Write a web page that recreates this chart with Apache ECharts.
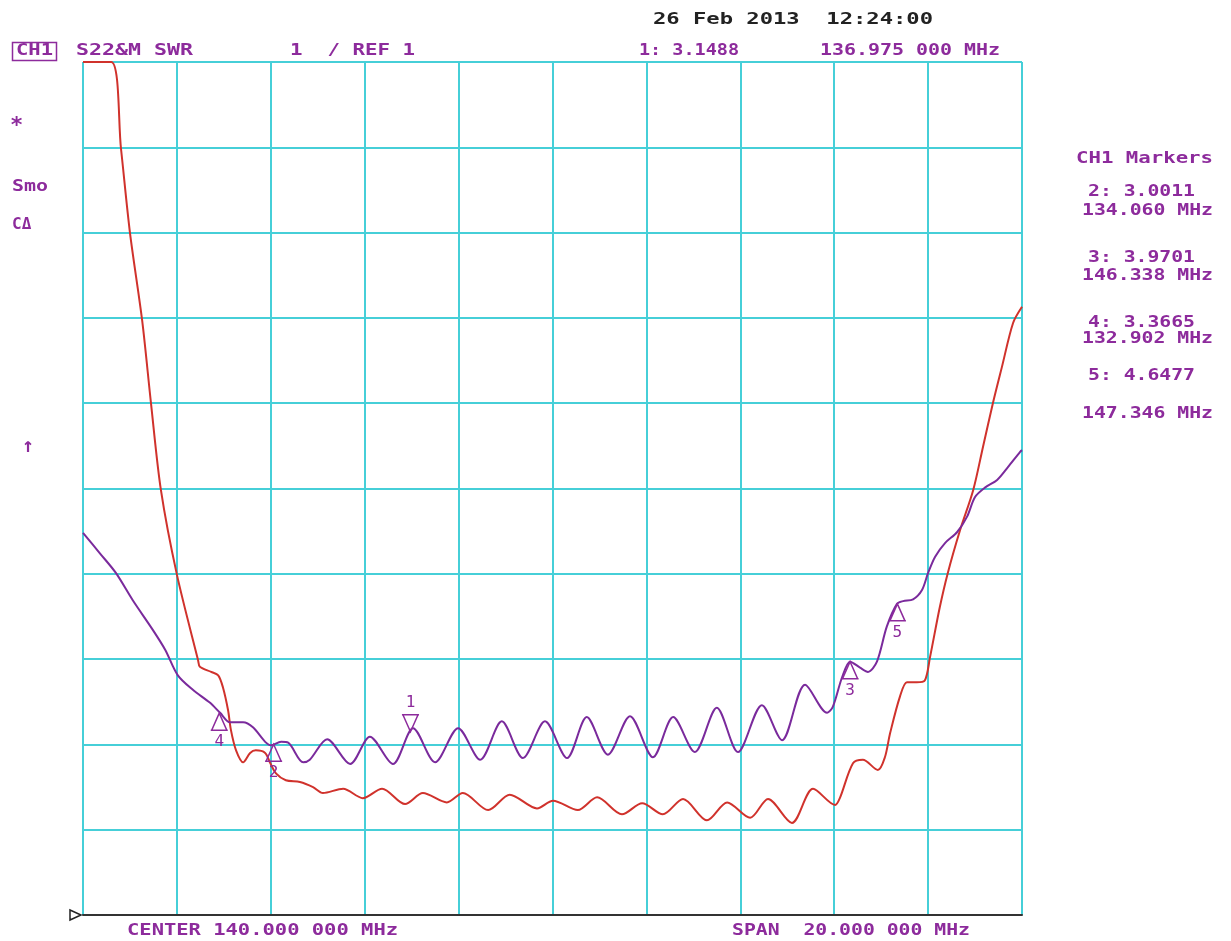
<!DOCTYPE html>
<html>
<head>
<meta charset="utf-8">
<script src="https://cdn.jsdelivr.net/npm/echarts@6/dist/echarts.min.js"></script>
<style>
html,body{margin:0;padding:0;background:#fff;}
#chart{width:1231px;height:941px;}
</style>
</head>
<body>
<div id="chart"></div>
<script>
// ---- Data (frequency in MHz, SWR) ----
var redFreq = [130.00,130.60,130.81,131.00,131.26,131.45,131.66,132.00,132.45,132.49,132.73,132.88,132.98,133.09,133.15,133.26,133.41,133.56,133.68,133.88,133.98,134.11,134.32,134.62,134.90,135.11,135.54,135.96,136.37,136.86,137.24,137.75,138.09,138.63,139.09,139.67,140.01,140.54,140.95,141.48,141.91,142.35,142.78,143.29,143.72,144.21,144.59,145.10,145.55,146.02,146.12,146.40,146.61,146.93,147.08,147.19,147.40,147.55,147.76,147.93,148.04,148.25,148.42,148.68,148.96,149.17,149.38,149.57,149.81,150.00];
var redSWR  = [11.0,11.0,9.98,9.0,7.97,6.99,5.98,4.99,3.99,3.91,3.85,3.81,3.67,3.40,3.17,2.93,2.79,2.90,2.93,2.90,2.79,2.66,2.58,2.56,2.50,2.43,2.48,2.37,2.48,2.30,2.43,2.32,2.43,2.23,2.41,2.25,2.34,2.23,2.38,2.18,2.31,2.18,2.36,2.11,2.32,2.14,2.36,2.08,2.48,2.29,2.37,2.78,2.82,2.70,2.85,3.13,3.56,3.73,3.73,3.75,4.02,4.61,5.01,5.51,5.98,6.49,7.00,7.42,7.94,8.13];

var purpleFreq = [130.00,130.36,130.70,131.06,131.49,131.75,132.02,132.34,132.70,132.92,133.13,133.41,133.62,133.88,134.00,134.22,134.37,134.69,134.83,135.20,135.69,136.11,136.60,137.03,137.50,137.99,138.46,138.92,139.37,139.84,140.31,140.73,141.18,141.65,142.14,142.57,143.03,143.50,143.95,144.46,144.89,145.38,145.85,145.97,146.17,146.34,146.55,146.72,146.91,147.12,147.34,147.47,147.68,147.87,148.00,148.15,148.36,148.62,148.83,149.00,149.21,149.47,149.70,149.96,150.00];
var purpleSWR  = [5.48,5.24,5.01,4.69,4.34,4.11,3.81,3.64,3.49,3.37,3.26,3.26,3.20,3.03,2.99,3.03,3.02,2.79,2.82,3.06,2.77,3.09,2.77,3.19,2.79,3.19,2.82,3.27,2.84,3.27,2.84,3.32,2.88,3.33,2.85,3.32,2.91,3.43,2.91,3.46,3.05,3.70,3.37,3.44,3.79,3.97,3.90,3.85,3.97,4.38,4.65,4.68,4.70,4.81,5.01,5.20,5.36,5.49,5.67,5.90,6.01,6.10,6.25,6.43,6.45];

var markerIds  = ['1','2','3','4','5'];
var markerFreq = [136.975,134.060,146.338,132.902,147.346];
var markerSWR  = [3.1488,3.0011,3.9701,3.3665,4.6477];

var xTicks = {min:130, max:150, step:2};
var yTicks = {min:1, max:11, step:1};

// ---- Styling ----
var RED = '#d0322c', PURPLE = '#7a2a9c', TEXT = '#8d2b9c', GRID = '#46cfd8';
var FONT = '"DejaVu Sans Mono", "Liberation Mono", monospace';

function pairs(xs, ys){ return xs.map(function(x,i){ return [x, ys[i]]; }); }

function txt(str, left, cy, width, color, size, weight){
  size = size || 16;
  weight = weight || 'bold';
  var sx = width ? width / (str.length * 0.602 * size) : 1;
  return {type:'text', x:left, y:cy, scaleX:sx, z:100,
    style:{text:str, fill:color||TEXT, font:weight+' '+size+'px '+FONT, textAlign:'left', textVerticalAlign:'middle', verticalAlign:'middle'}};
}

var upTri = 'path://M9,0L1,17L17,17ZM0,17L18,17';
var downTri = 'path://M0,0L18,0M1,0L9,17L17,0Z';

var markData = markerIds.map(function(id,i){
  var down = (i === 0);
  return {
    name:id, coord:[markerFreq[i], markerSWR[i]],
    symbol: down ? downTri : upTri,
    symbolSize:[17,17],
    symbolOffset:[0, down ? -8.5 : 8.5],
    label:{show:true, formatter:id, position: down ? 'top' : 'bottom', distance:3,
      color:TEXT, fontFamily:FONT, fontSize:16}
  };
});

var fmtFreq = function(f){ return f.toFixed(3); };
var graphics = [
  {type:'rect', shape:{x:12.5,y:42.5,width:44,height:18}, style:{fill:'none', stroke:TEXT, lineWidth:1.5}, z:100},
  txt('CH1', 16, 51, 37),
  txt('S22&M SWR', 76, 51, 117),
  txt('1  / REF 1', 290, 51, 125),
  txt('26 Feb 2013  12:24:00', 653, 20, 280, '#222'),
  txt(markerIds[0] + ': ' + markerSWR[0].toFixed(4), 639, 51, 100),
  txt(markerFreq[0].toFixed(3) + ' 000 MHz', 820, 51, 180),
  txt('*', 10, 126, null, TEXT, 22),
  txt('Smo', 12, 187, 36),
  txt('C\u0394', 12, 225, null),
  txt('\u2191', 22, 447, null, TEXT, 20),
  txt('CH1 Markers', 1076, 159, 137),
  txt('CENTER 140.000 000 MHz', 127, 931, 271),
  txt('SPAN  20.000 000 MHz', 732, 931, 238),
  {type:'polygon', shape:{points:[[70,910],[70,920],[81,915]]}, style:{fill:'#fff', stroke:'#222', lineWidth:1.5}, z:100}
];
var rightY = [[192,211],[258,276],[323,339],[376,414]];
for (var k=1; k<markerIds.length; k++){
  graphics.push(txt(markerIds[k] + ': ' + markerSWR[k].toFixed(4), 1088, rightY[k-1][0], 107));
  graphics.push(txt(fmtFreq(markerFreq[k]) + ' MHz', 1082, rightY[k-1][1], 131));
}

var chart = echarts.init(document.getElementById('chart'), null, {renderer:'canvas'});
chart.setOption({
  backgroundColor:'#ffffff',
  animation:false,
  grid:{left:83, top:62, right:209, bottom:26, containLabel:false},
  xAxis:{type:'value', min:xTicks.min, max:xTicks.max, interval:xTicks.step,
    axisLine:{show:true, onZero:false, lineStyle:{color:'#333', width:2}},
    axisTick:{show:false}, axisLabel:{show:false},
    splitLine:{show:true, showMinLine:true, showMaxLine:true, lineStyle:{color:GRID, width:2}}},
  yAxis:{type:'value', min:yTicks.min, max:yTicks.max, interval:yTicks.step,
    axisLine:{show:false}, axisTick:{show:false}, axisLabel:{show:false},
    splitLine:{show:true, showMinLine:true, showMaxLine:true, lineStyle:{color:GRID, width:2}}},
  series:[
    {type:'line', name:'mem', data:pairs(redFreq, redSWR), showSymbol:false, smooth:0.3,
      lineStyle:{color:RED, width:2}, itemStyle:{color:RED}, z:3},
    {type:'line', name:'S22', data:pairs(purpleFreq, purpleSWR), showSymbol:false, smooth:0.3,
      lineStyle:{color:PURPLE, width:2}, itemStyle:{color:PURPLE}, z:4,
      markPoint:{data:markData, itemStyle:{color:'rgba(255,255,255,0)', borderColor:TEXT, borderWidth:1.5}}}
  ],
  graphic:graphics
});
</script>
</body>
</html>
